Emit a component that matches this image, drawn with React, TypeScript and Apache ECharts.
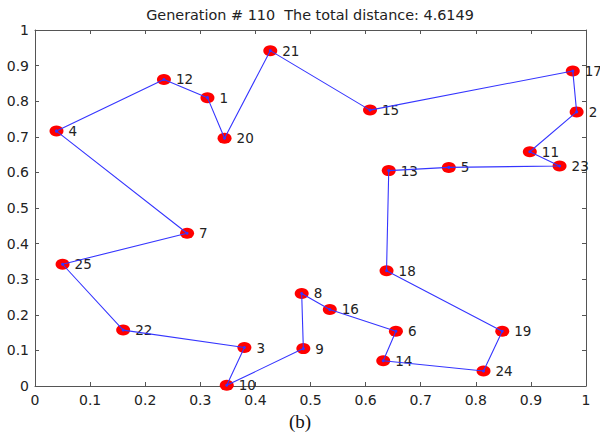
import React, { useEffect, useRef } from "react";
import * as echarts from "echarts";

const cityIds = [1, 2, 3, 4, 5, 6, 7, 8, 9, 10, 11, 12, 13, 14, 15, 16, 17, 18, 19, 20, 21, 22, 23, 24, 25];
const cityX = [0.313, 0.983, 0.380, 0.039, 0.751, 0.655, 0.276, 0.484, 0.487, 0.348, 0.898, 0.234, 0.642, 0.632, 0.608, 0.535, 0.976, 0.638, 0.848, 0.344, 0.427, 0.160, 0.952, 0.814, 0.050];
const cityY = [0.810, 0.770, 0.108, 0.716, 0.614, 0.154, 0.429, 0.260, 0.105, 0.002, 0.658, 0.861, 0.605, 0.071, 0.775, 0.215, 0.885, 0.324, 0.154, 0.696, 0.942, 0.157, 0.618, 0.042, 0.342];
const tourOrder = [4, 12, 1, 20, 21, 15, 17, 2, 11, 23, 5, 13, 18, 19, 24, 14, 6, 16, 8, 9, 10, 3, 22, 25, 7, 4];
const generation = 110;
const totalDistance = "4.6149";
const subCaption = "(b)";

const FONT = "'DejaVu Sans', 'Liberation Sans', Arial, sans-serif";

export default function App() {
  const ref = useRef<HTMLDivElement>(null);
  useEffect(() => {
    if (!ref.current) return;
    const chart = echarts.init(ref.current, null, { renderer: "svg" });
    const points = cityIds.map((id, i) => ({ value: [cityX[i], cityY[i]], name: String(id) }));
    const tour = tourOrder.map((id) => {
      const i = cityIds.indexOf(id);
      return [cityX[i], cityY[i]];
    });
    const left = 35, top = 30, width = 551, height = 356;
    const axisBase = {
      type: "value" as const,
      min: 0,
      max: 1,
      interval: 0.1,
      splitLine: { show: false },
      axisLine: { show: true, onZero: false, lineStyle: { color: "#555", width: 1 } },
      axisTick: { show: true, inside: true, length: 4, lineStyle: { color: "#555" } },
    };
    const lbl = {
      color: "#222",
      fontFamily: FONT,
      fontSize: 14,
      formatter: (v: number) => String(Math.round(v * 10) / 10),
    };
    chart.setOption({
      animation: false,
      backgroundColor: "#fff",
      grid: { left, top, width, height, containLabel: false },
      xAxis: [
        { ...axisBase, position: "bottom", axisLabel: { ...lbl, margin: 7, showMinLabel: true, showMaxLabel: true } },
        { ...axisBase, position: "top", axisLabel: { show: false } },
      ],
      yAxis: [
        { ...axisBase, position: "left", axisLabel: { ...lbl, margin: 6, showMinLabel: true, showMaxLabel: true } },
        { ...axisBase, position: "right", axisLabel: { show: false } },
      ],
      graphic: [
        {
          type: "text",
          x: 310,
          y: 15,
          style: {
            text: `Generation # ${generation}  The total distance: ${totalDistance}`,
            fontFamily: FONT,
            fontSize: 14.4,
            fill: "#222",
            align: "center",
            verticalAlign: "middle",
          },
        },
        {
          type: "text",
          x: 300,
          y: 421,
          style: {
            text: subCaption,
            fontFamily: "'Liberation Serif', 'Times New Roman', serif",
            fontSize: 19,
            fill: "#111",
            align: "center",
            verticalAlign: "middle",
          },
        },
      ],
      series: [
        {
          type: "scatter",
          data: points,
          symbol: "circle",
          symbolSize: [14, 11],
          itemStyle: { color: "#ff0000", opacity: 1 },
          z: 2,
          label: {
            show: true,
            position: "right",
            distance: 5,
            formatter: (p: any) => p.name,
            color: "#222",
            fontFamily: FONT,
            fontSize: 13.5,
          },
          emphasis: { disabled: true },
        },
        {
          type: "line",
          data: tour,
          symbol: "circle",
          symbolSize: 3,
          showSymbol: true,
          lineStyle: { color: "#3535ff", width: 1.1 },
          itemStyle: { color: "#3535ff" },
          z: 3,
          emphasis: { disabled: true },
        },
      ],
    });
    return () => chart.dispose();
  }, []);
  return (
    <div
      ref={ref}
      style={{ position: "fixed", left: 0, top: 0, width: 600, height: 438, background: "#fff" }}
    />
  );
}
